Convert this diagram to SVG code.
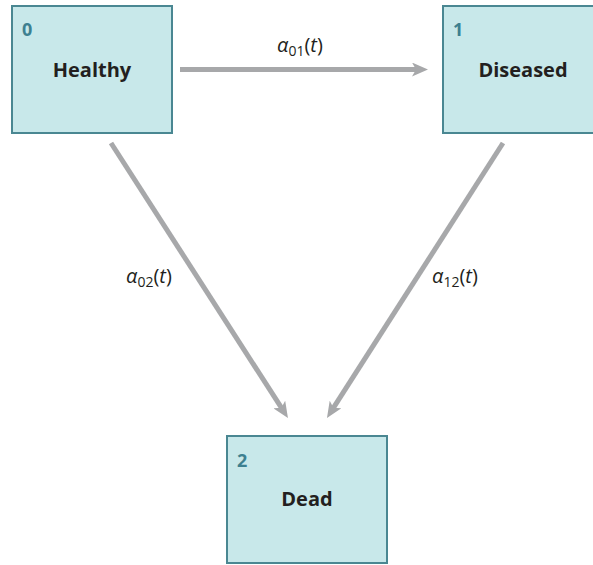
<svg xmlns="http://www.w3.org/2000/svg" width="593" height="565" viewBox="0 0 593 565">
<style>
.box{fill:#c8e8ea;stroke:#4a8792;stroke-width:2}
.num{font-family:"Open Sans","Noto Sans",sans-serif;font-weight:bold;font-size:18px;fill:#3d8090}
.name{font-family:"Open Sans","Noto Sans",sans-serif;font-weight:bold;font-size:20px;fill:#231f20;text-anchor:middle}
.lbl{font-family:"Open Sans","Noto Sans",sans-serif;font-size:20px;fill:#231f20}
.edge{stroke:#a7a8aa;stroke-width:5;fill:none}
</style>
<defs>
<marker id="ah" markerUnits="userSpaceOnUse" markerWidth="16" markerHeight="14" refX="5" refY="7" orient="auto">
<path d="M0,0 L16,7 L0,14 L4,7 Z" fill="#a7a8aa"/>
</marker>
</defs>
<g id="node0">
<rect class="box" x="12" y="6" width="160" height="127"/>
<text class="num" x="22" y="36">0</text>
<text class="name" x="92" y="77">Healthy</text>
</g>
<g id="node1">
<rect class="box" x="443" y="6" width="160" height="127"/>
<text class="num" x="453" y="36">1</text>
<text class="name" x="523" y="77">Diseased</text>
</g>
<g id="node2">
<rect class="box" x="227" y="436" width="160" height="127"/>
<text class="num" x="237" y="467">2</text>
<text class="name" x="307" y="506">Dead</text>
</g>
<g id="connectors">
<line class="edge" x1="180" y1="69.5" x2="417" y2="69.5" marker-end="url(#ah)"/>
<line class="edge" x1="111" y1="143" x2="282" y2="408.7" marker-end="url(#ah)"/>
<line class="edge" x1="503" y1="143" x2="332.9" y2="408.7" marker-end="url(#ah)"/>
<text class="lbl" x="277" y="52"><tspan font-style="italic">α</tspan><tspan font-size="14" dy="4">01</tspan><tspan dy="-4">(</tspan><tspan font-style="italic">t</tspan>)</text>
<text class="lbl" x="126" y="283"><tspan font-style="italic">α</tspan><tspan font-size="14" dy="4">02</tspan><tspan dy="-4">(</tspan><tspan font-style="italic">t</tspan>)</text>
<text class="lbl" x="432" y="283"><tspan font-style="italic">α</tspan><tspan font-size="14" dy="4">12</tspan><tspan dy="-4">(</tspan><tspan font-style="italic">t</tspan>)</text>
</g>
</svg>
